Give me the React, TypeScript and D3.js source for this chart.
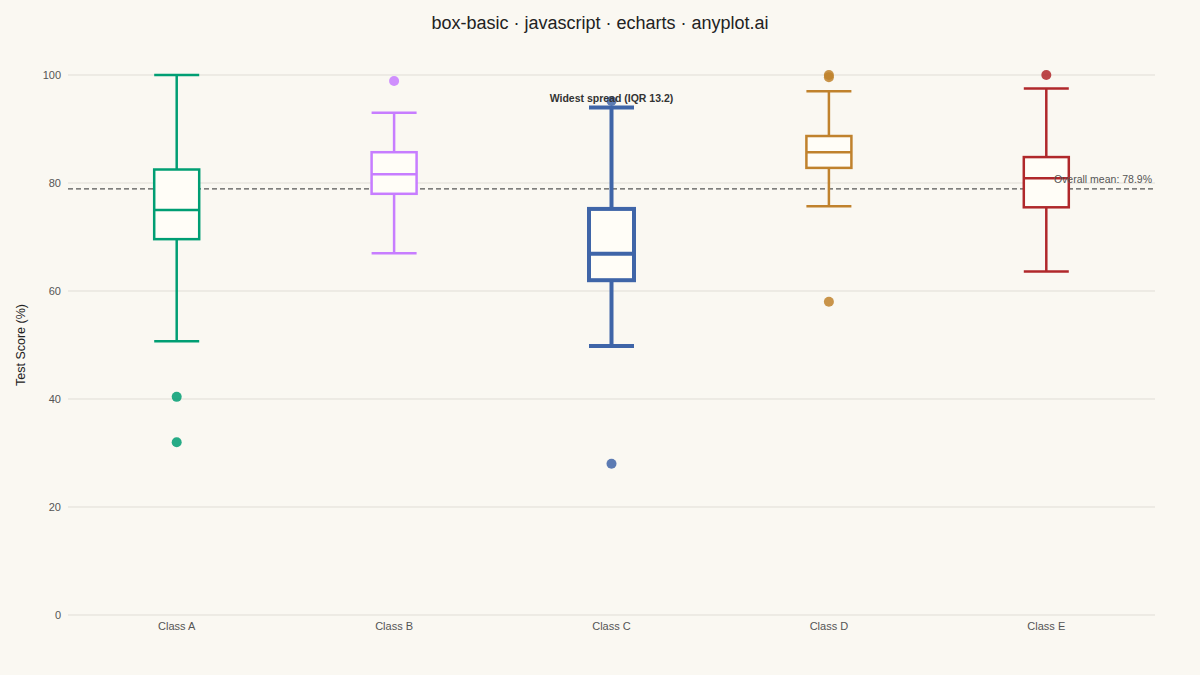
import React, { useEffect, useRef } from 'react';
import * as d3 from 'd3';

// box stats (whisker low, Q1, median, Q3, whisker high)
const classes = ['Class A', 'Class B', 'Class C', 'Class D', 'Class E'];
const whiskerLow = [50.7, 67.0, 49.8, 75.7, 63.6];
const q1 = [69.6, 78.0, 62.0, 82.8, 75.5];
const median = [75.0, 81.6, 66.9, 85.7, 80.9];
const q3 = [82.5, 85.7, 75.2, 88.7, 84.8];
const whiskerHigh = [100.0, 93.0, 94.0, 97.0, 97.5];
const outliers = [[40.4, 32.0], [98.9], [95.2, 28.0], [100.0, 99.6, 58.0], [100.0]];
const colors = ['#009E73', '#C77DFF', '#3F65A8', '#C0822D', '#B0282B'];
const yTicks = [0, 20, 40, 60, 80, 100];
const overallMean = 78.9;
const widestIndex = 2;

const W = 1200;
const H = 675;
const margin = { top: 75, right: 45, bottom: 60, left: 68 };
const font = "'Liberation Sans', Arial, sans-serif";

const App: React.FC = () => {
  const svgRef = useRef<SVGSVGElement>(null);

  useEffect(() => {
    if (!svgRef.current) return;
    const svg = d3.select(svgRef.current);
    svg.selectAll('*').remove();

    const x = d3.scaleBand<string>()
      .domain(classes)
      .range([margin.left, W - margin.right])
      .paddingInner(0)
      .paddingOuter(0);
    const y = d3.scaleLinear().domain([0, 100]).range([H - margin.bottom, margin.top]);

    svg.append('rect').attr('width', W).attr('height', H).attr('fill', '#FAF8F2');

    // title
    svg.append('text')
      .attr('x', W / 2).attr('y', 29)
      .attr('text-anchor', 'middle')
      .style('font-family', font).style('font-size', '18px').style('fill', '#222')
      .text('box-basic · javascript · echarts · anyplot.ai');

    // grid + y ticks
    const grid = svg.append('g');
    yTicks.forEach((t) => {
      grid.append('line')
        .attr('x1', margin.left).attr('x2', W - margin.right)
        .attr('y1', y(t)).attr('y2', y(t))
        .attr('stroke', '#E0DDD6').attr('stroke-width', 1);
      grid.append('text')
        .attr('x', margin.left - 7).attr('y', y(t) + 4)
        .attr('text-anchor', 'end')
        .style('font-family', font).style('font-size', '11px').style('fill', '#555')
        .text(t);
    });

    // x labels
    classes.forEach((c) => {
      svg.append('text')
        .attr('x', x(c)! + x.bandwidth() / 2).attr('y', H - margin.bottom + 15)
        .attr('text-anchor', 'middle')
        .style('font-family', font).style('font-size', '11px').style('fill', '#555')
        .text(c);
    });

    // y axis title
    svg.append('text')
      .attr('transform', `translate(25,${(margin.top + H - margin.bottom) / 2}) rotate(-90)`)
      .attr('text-anchor', 'middle')
      .style('font-family', font).style('font-size', '12.5px').style('fill', '#222')
      .text('Test Score (%)');

    // mean line
    svg.append('line')
      .attr('x1', margin.left).attr('x2', W - margin.right)
      .attr('y1', y(overallMean)).attr('y2', y(overallMean))
      .attr('stroke', '#555').attr('stroke-width', 1.3)
      .attr('stroke-dasharray', '5,3');

    const boxW = 45;
    classes.forEach((c, i) => {
      const cx = x(c)! + x.bandwidth() / 2;
      const sw = i === widestIndex ? 4 : 2.5;
      const g = svg.append('g');
      const col = colors[i];

      // whiskers
      g.append('line').attr('x1', cx).attr('x2', cx)
        .attr('y1', y(whiskerHigh[i])).attr('y2', y(q3[i]))
        .attr('stroke', col).attr('stroke-width', sw);
      g.append('line').attr('x1', cx).attr('x2', cx)
        .attr('y1', y(q1[i])).attr('y2', y(whiskerLow[i]))
        .attr('stroke', col).attr('stroke-width', sw);
      [whiskerHigh[i], whiskerLow[i]].forEach((v) => {
        g.append('line')
          .attr('x1', cx - boxW / 2).attr('x2', cx + boxW / 2)
          .attr('y1', y(v)).attr('y2', y(v))
          .attr('stroke', col).attr('stroke-width', sw);
      });

      // box
      g.append('rect')
        .attr('x', cx - boxW / 2).attr('width', boxW)
        .attr('y', y(q3[i])).attr('height', y(q1[i]) - y(q3[i]))
        .attr('fill', '#FFFDF7')
        .attr('stroke', col).attr('stroke-width', sw);
      g.append('line')
        .attr('x1', cx - boxW / 2).attr('x2', cx + boxW / 2)
        .attr('y1', y(median[i])).attr('y2', y(median[i]))
        .attr('stroke', col).attr('stroke-width', sw);

      // outliers
      outliers[i].forEach((v) => {
        g.append('circle')
          .attr('cx', cx).attr('cy', y(v)).attr('r', 5)
          .attr('fill', col).attr('fill-opacity', 0.85);
      });
    });

    // annotations
    const wc = x(classes[widestIndex])! + x.bandwidth() / 2;
    svg.append('text')
      .attr('x', wc).attr('y', 102)
      .attr('text-anchor', 'middle')
      .style('font-family', font).style('font-size', '10.5px')
      .style('font-weight', 'bold').style('fill', '#333')
      .text(`Widest spread (IQR ${(q3[widestIndex] - q1[widestIndex]).toFixed(1)})`);

    svg.append('text')
      .attr('x', W - margin.right - 3).attr('y', y(overallMean) - 6)
      .attr('text-anchor', 'end')
      .style('font-family', font).style('font-size', '10.5px').style('fill', '#555')
      .text(`Overall mean: ${overallMean}%`);
  }, []);

  return (
    <div style={{ position: 'absolute', left: 0, top: 0, width: W, height: H }}>
      <svg ref={svgRef} width={W} height={H} style={{ display: 'block' }} />
    </div>
  );
};

export default App;
